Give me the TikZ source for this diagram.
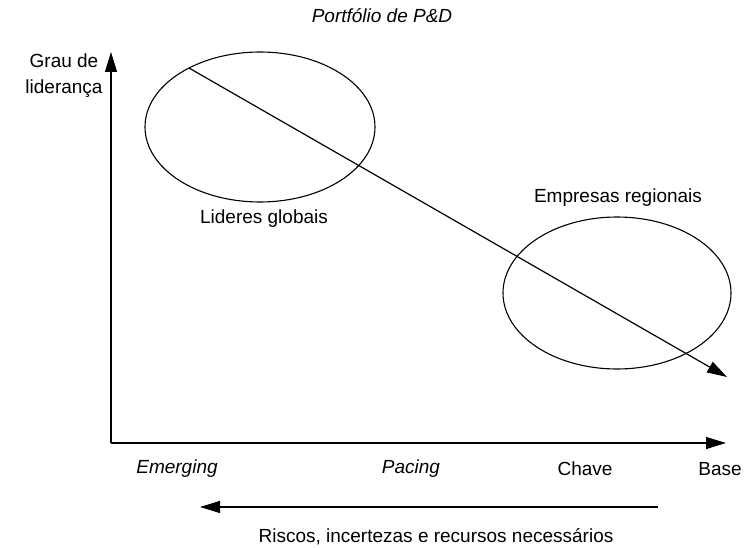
\documentclass[tikz,border=0pt]{standalone}
\usepackage{fontspec}
\setmainfont{Liberation Sans}
\usetikzlibrary{arrows.meta,shapes.geometric}
\begin{document}
\begin{tikzpicture}[x=1pt,y=-1pt,
  line/.style={line width=1.2pt, black},
  tip/.style={-{Triangle[length=20pt,width=12pt]}},
  lbl/.style={inner sep=0pt, font=\fontsize{19}{26}\selectfont},
  ilbl/.style={lbl, font=\fontsize{19}{26}\selectfont\itshape},
  oval/.style={ellipse, draw, line width=1.1pt, inner sep=0pt}]
\useasboundingbox (0,0) rectangle (747,548);
% title
\node[ilbl] (title) at (382,16) {Portfólio de P\&D};
% axes
\coordinate (origin) at (111,443);
\coordinate (ytop) at (111,52);
\coordinate (xend) at (726,443);
\draw[line,tip] (origin) -- (ytop);
\draw[line,tip] (origin) -- (xend);
\node[lbl, align=center] (ylab) at (64,76) {Grau de\\liderança};
% ellipses
\node[oval, minimum width=230pt, minimum height=150pt] (e1) at (260,127) {};
\node[oval, minimum width=228pt, minimum height=152pt] (e2) at (617,293) {};
\node[lbl] (l1) at (264,219) {Lideres globais};
\node[lbl] (l2) at (618,198) {Empresas regionais};
% diagonal
\coordinate (dstart) at (189,68);
\coordinate (dend) at (727,377);
\draw[line,tip] (dstart) -- (dend);
% x labels
\node[ilbl] (em) at (177,469) {Emerging};
\node[ilbl] (pa) at (411,469) {Pacing};
\node[lbl] (ch) at (585,469) {Chave};
\node[lbl] (ba) at (720,469) {Base};
% bottom arrow
\coordinate (bstart) at (658,507);
\coordinate (bend) at (200,507);
\draw[line,tip] (bstart) -- (bend);
\node[lbl] (risk) at (436,537) {Riscos, incertezas e recursos necessários};
\end{tikzpicture}
\end{document}
